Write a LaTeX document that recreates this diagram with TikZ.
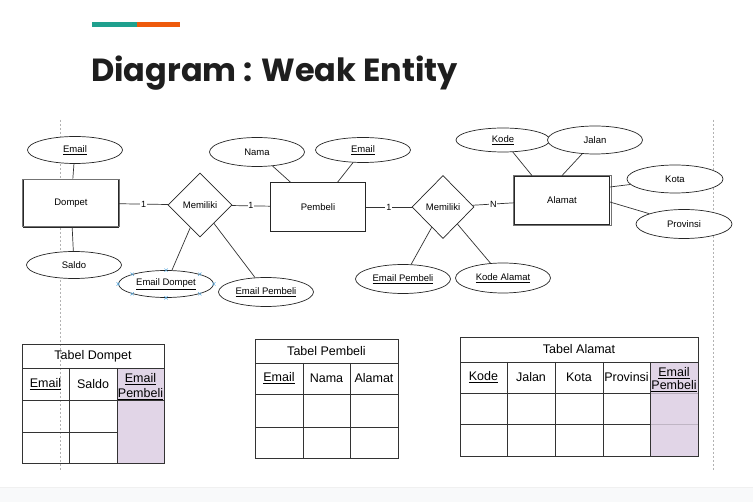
\documentclass[tikz,border=0pt]{standalone}
\usepackage{fontspec}
\setmainfont{Liberation Sans}
\newfontfamily\titlefont{Poppins}
\usetikzlibrary{shapes.geometric}
\definecolor{teal1}{HTML}{1FA08E}
\definecolor{orange1}{HTML}{EE5A0C}
\definecolor{lilac}{HTML}{E1D5E7}
\definecolor{ink}{HTML}{1E1E1E}
\definecolor{handle}{HTML}{5AA9DD}
\definecolor{band}{HTML}{F8F9FA}
\tikzset{
  attr/.style={ellipse, draw=black!85, fill=white, line width=0.7pt, minimum width=95pt, minimum height=27pt, inner sep=0pt, font=\fontsize{9.5}{11}\selectfont},
  ent/.style={rectangle, draw=black!85, fill=white, line width=0.8pt, minimum width=95pt, minimum height=48pt, inner sep=0pt, font=\fontsize{9.5}{11}\selectfont},
  rel/.style={diamond, draw=black!85, fill=white, line width=0.7pt, minimum width=64pt, minimum height=64pt, inner sep=0pt, aspect=1, font=\fontsize{9.5}{11}\selectfont},
  link/.style={draw=black!80, line width=0.7pt},
  card/.style={fill=white, inner sep=0.8pt, font=\fontsize{9}{10}\selectfont},
  cell/.style={font=\fontsize{12.5}{14}\selectfont, align=center, inner sep=0pt},
  tline/.style={draw=black!80, line width=0.8pt},
  sketch/.style={draw=black!55, line width=0.4pt},
  guide/.style={draw=black!30, line width=0.5pt, dash pattern=on 2pt off 2pt},
  handlemark/.style={draw=handle, line width=0.5pt},
}
\begin{document}
\begin{tikzpicture}[x=1pt, y=-1pt]
\useasboundingbox (0,0) rectangle (753,502);
\fill[white] (0,0) rectangle (753,502);
\fill[band] (0,487) rectangle (753,502);
\draw[black!6, line width=0.4pt] (0,487) -- (753,487);

% title
\fill[teal1] (92,22) rectangle (137,27);
\fill[orange1] (137,22) rectangle (180,27);
\node[anchor=base west, inner sep=0pt, text=ink, font=\titlefont\bfseries\fontsize{32}{35}\selectfont] (title) at (91,82) {Diagram : Weak Entity};

% guides
\draw[guide] (60,120) -- (60,470);
\draw[guide] (713,120) -- (713,470);

% ER nodes
\node[ent] (dompet) at (71,203) {Dompet};
\node[attr] (demail) at (75,150) {\underline{Email}};
\node[attr] (saldo) at (74,265) {Saldo};
\node[rel] (mem1) at (200,205) {Memiliki};
\node[ent, minimum height=49pt] (pembeli) at (318,207) {Pembeli};
\node[attr, minimum height=29pt] (nama) at (257,152) {Nama};
\node[attr, minimum height=25pt] (pemail) at (363,150) {\underline{Email}};
\node[attr] (emdompet) at (166,284) {\underline{Email Dompet}};
\node[attr, minimum height=29pt] (empembeli1) at (266,292) {\underline{Email Pembeli}};
\node[rel, minimum width=62pt, minimum height=63pt] (mem2) at (443,207) {Memiliki};
\node[ent] (alamat) at (562,200) {Alamat};
\node[attr, minimum width=94pt, minimum height=24pt] (kode) at (503,140) {\underline{Kode}};
\node[attr, minimum height=28pt] (jalan) at (595,140) {Jalan};
\node[attr, minimum width=96pt, minimum height=28pt] (kota) at (675,179) {Kota};
\node[attr, minimum width=96pt, minimum height=29pt] (provinsi) at (684,224) {Provinsi};
\node[attr, minimum height=29pt] (empembeli2) at (403,279) {\underline{Email Pembeli}};
\node[attr, minimum height=30pt] (kodealamat) at (503,278) {\underline{Kode Alamat}};

% sketchy outlines
\draw[sketch] ([shift={(-0.9pt,0.7pt)}]dompet.south west) rectangle ([shift={(0.7pt,-0.9pt)}]dompet.north east);
\draw[sketch] ([shift={(-0.7pt,-0.9pt)}]alamat.south west) rectangle ([shift={(0.9pt,0.7pt)}]alamat.north east);

% selection handles on Email Dompet
\foreach \a in {north,south,east,west,north east,north west,south east,south west}
  \draw[handlemark] (emdompet.\a) +(-1.6,-1.6) -- +(1.6,1.6) +(-1.6,1.6) -- +(1.6,-1.6);

% connectors
\draw[link] (demail) -- (dompet);
\draw[link] (saldo) -- (dompet);
\draw[link] (dompet) -- node[card]{1} (mem1);
\draw[link] (mem1) -- node[card]{1} (pembeli);
\draw[link] (nama) -- (pembeli);
\draw[link] (pemail) -- (pembeli);
\draw[link] (mem1) -- (emdompet);
\draw[link] (mem1) -- (empembeli1);
\draw[link] (pembeli) -- node[card]{1} (mem2);
\draw[link] (mem2) -- node[card]{N} (alamat);
\draw[link] (kode) -- ([xshift=-30pt]alamat.north);
\draw[link] (jalan) -- (alamat.north);
\draw[link] (kota) -- ([yshift=13pt]alamat.east);
\draw[link] (provinsi) -- ([yshift=-2pt]alamat.east);
\draw[link] (mem2) -- (empembeli2);
\draw[link] (mem2) -- (kodealamat);

% ---------- Tabel Dompet ----------
\fill[lilac] (117,368) rectangle (164,463);
\draw[tline] (22,344) rectangle (164,463);
\draw[tline] (22,368) -- (164,368);
\draw[tline] (22,400) -- (164,400);
\draw[tline] (22,432) -- (117,432);
\draw[tline] (69,368) -- (69,463);
\draw[tline] (117,368) -- (117,463);
\node[cell] (td) at (93,356) {Tabel Dompet};
\node[cell] (td1) at (45.5,384) {\underline{Email}};
\node[cell] (td2) at (93,384) {Saldo};
\node[cell, font=\fontsize{12.5}{15}\selectfont] (td3) at (140.5,386.5) {\underline{Email}\\\underline{Pembeli}};

% ---------- Tabel Pembeli ----------
\draw[tline] (255,339) rectangle (398,458);
\draw[tline] (255,363) -- (398,363);
\draw[tline] (255,394) -- (398,394);
\draw[tline] (255,427) -- (398,427);
\draw[tline] (303,363) -- (303,458);
\draw[tline] (350,363) -- (350,458);
\node[cell] (tp) at (326.5,351) {Tabel Pembeli};
\node[cell] (tp1) at (279,378.5) {\underline{Email}};
\node[cell] (tp2) at (326.5,378.5) {Nama};
\node[cell] (tp3) at (374,378.5) {Alamat};

% ---------- Tabel Alamat ----------
\fill[lilac] (650,362) rectangle (698,456);
\draw[tline] (460,337) rectangle (698,456);
\draw[tline] (460,362) -- (698,362);
\draw[tline] (460,393) -- (650,393);
\draw[tline] (460,424) -- (650,424);
\draw[draw=lilac!80!black, line width=0.6pt] (650,393) -- (698,393);
\draw[draw=lilac!85!black, line width=0.6pt] (650,424) -- (698,424);
\draw[tline] (507,362) -- (507,456);
\draw[tline] (555,362) -- (555,456);
\draw[tline] (603,362) -- (603,456);
\draw[tline] (650,362) -- (650,456);
\node[cell] (ta) at (579,349.5) {Tabel Alamat};
\node[cell] (ta1) at (483.5,377.5) {\underline{Kode}};
\node[cell] (ta2) at (531,377.5) {Jalan};
\node[cell] (ta3) at (579,377.5) {Kota};
\node[cell] (ta4) at (626.5,377.5) {Provinsi};
\node[cell, font=\fontsize{12.5}{13.5}\selectfont] (ta5) at (674,379.5) {\underline{Email}\\\underline{Pembeli}};
\end{tikzpicture}
\end{document}
